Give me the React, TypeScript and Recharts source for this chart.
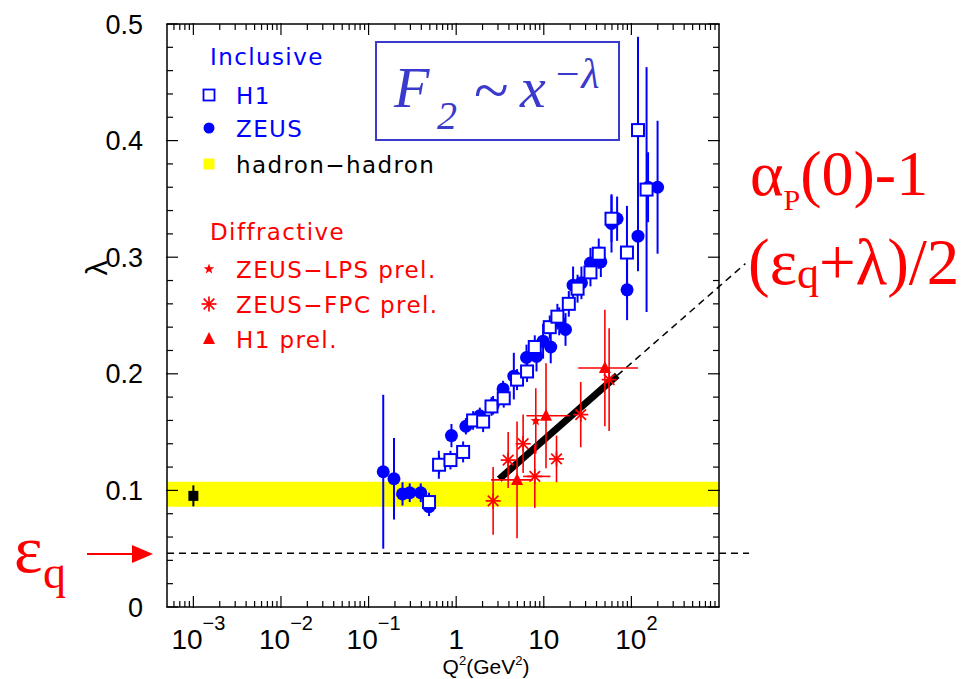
import React from 'react';
import {
  ComposedChart,
  XAxis,
  YAxis,
  Scatter,
  Line,
  ErrorBar,
  ReferenceArea,
  ReferenceLine,
} from 'recharts';

const BLUE = '#0000ff';
const RED = '#ff0000';
const TITLE_BLUE = '#3a3acc';
const SANS = '"Liberation Sans", Arial, sans-serif';
const LEGEND_FONT = '"DejaVu Sans", sans-serif';
const SERIF = '"Liberation Serif", "Times New Roman", serif';

// Inclusive: ZEUS (filled circles)
const zeusQ2 = [0.147, 0.195, 0.244, 0.295, 0.394, 0.49, 0.634, 0.883, 1.29, 1.86, 2.64, 3.43, 4.55, 6.35, 8.26, 9.82, 12.0, 15.0, 17.7, 21.6, 26.9, 34.1, 44.8, 59.3, 68.7, 89.3, 119, 155, 199];
const zeusLambda = [0.116, 0.110, 0.097, 0.098, 0.098, 0.086, 0.122, 0.147, 0.155, 0.164, 0.173, 0.187, 0.198, 0.214, 0.215, 0.228, 0.223, 0.245, 0.238, 0.276, 0.278, 0.295, 0.296, 0.329, 0.333, 0.272, 0.318, 0.360, 0.360];
const zeusErr = [0.066, 0.035, 0.010, 0.008, 0.008, 0.008, 0.012, 0.010, 0.007, 0.007, 0.008, 0.007, 0.020, 0.011, 0.013, 0.015, 0.014, 0.012, 0.014, 0.016, 0.014, 0.013, 0.013, 0.025, 0.019, 0.026, 0.030, 0.030, 0.057];

// Inclusive: H1 (open squares)
const h1Q2 = [0.49, 0.638, 0.86, 1.20, 1.56, 2.03, 2.53, 3.49, 4.95, 6.44, 7.89, 11.7, 14.3, 19.3, 24.3, 34.1, 42.4, 59.3, 89, 119, 149];
const h1Lambda = [0.090, 0.122, 0.126, 0.133, 0.160, 0.159, 0.172, 0.179, 0.195, 0.202, 0.223, 0.240, 0.249, 0.260, 0.273, 0.287, 0.303, 0.333, 0.304, 0.409, 0.358];
const h1Err = [0.008, 0.008, 0.008, 0.009, 0.008, 0.009, 0.008, 0.008, 0.009, 0.009, 0.010, 0.010, 0.011, 0.011, 0.012, 0.012, 0.013, 0.020, 0.040, 0.080, 0.105];

// hadron-hadron point and band
const hadronQ2 = [0.001];
const hadronLambda = [0.0953];
const hadronErr = [0.009];
const hadronBand = [0.086, 0.1075];

// Diffractive
const lpsQ2 = [8.1];
const lpsLambda = [0.1596];
const lpsErr = [0.028];

const fpcQ2 = [2.64, 3.92, 5.81, 7.89, 13.97, 26.4, 55.7];
const fpcLambda = [0.091, 0.126, 0.140, 0.112, 0.127, 0.165, 0.195];
const fpcErr = [0.029, 0.024, 0.025, 0.027, 0.020, 0.028, 0.044];
const fpcQ2Lo = [2.64, 3.92, 5.81, 5.81, 13.97, 26.4, 55.7];
const fpcQ2Hi = [2.64, 3.92, 5.81, 11.9, 13.97, 26.4, 55.7];

const h1pQ2 = [4.95, 10.6, 49.8];
const h1pLambda = [0.109, 0.164, 0.205];
const h1pErr = [0.05, 0.045, 0.05];
const h1pQ2Lo = [2.5, 6.34, 24.7];
const h1pQ2Hi = [7.5, 19.8, 119];

// (eps_q + lambda)/2 line and eps_q level
const fitQ2 = [3.1, 69];
const fitLambda = [0.1097, 0.1986];
const extQ2 = [69, 2000];
const extLambda = [0.1986, 0.2945];
const epsQ = 0.046;
const epsLineQ2 = [5e-4, 2200];

// axes
const xDomain = [5e-4, 1000];
const xMajor = [0.001, 0.01, 0.1, 1, 10, 100];
const xTickBase = ['10', '10', '10', '1', '10', '10'];
const xTickExp = ['\u22123', '\u22122', '\u22121', '', '', '2'];
const xMinorMult = [2, 3, 4, 5, 6, 7, 8, 9];
const xMinor = [0.0006, 0.0007, 0.0008, 0.0009].concat(
  ...xMajor.map(d => xMinorMult.map(m => +(m * d).toPrecision(3)))
);
const yMajor = [0, 0.1, 0.2, 0.3, 0.4, 0.5];
const yLabels = ['0', '0.1', '0.2', '0.3', '0.4', '0.5'];
const yMinor = [0.02, 0.04, 0.06, 0.08, 0.12, 0.14, 0.16, 0.18, 0.22, 0.24, 0.26, 0.28, 0.32, 0.34, 0.36, 0.38, 0.42, 0.44, 0.46, 0.48];

const pts = (xs: number[], ys: number[], es: number[], lo?: number[], hi?: number[]) =>
  xs.map((x, i) => ({
    x,
    y: ys[i],
    ey: es[i],
    ex: lo && hi ? [x - lo[i], hi[i] - x] : [0, 0],
  }));

const zeusData = pts(zeusQ2, zeusLambda, zeusErr);
const h1Data = pts(h1Q2, h1Lambda, h1Err);
const hadronData = pts(hadronQ2, hadronLambda, hadronErr);
const lpsData = pts(lpsQ2, lpsLambda, lpsErr);
const fpcData = pts(fpcQ2, fpcLambda, fpcErr, fpcQ2Lo, fpcQ2Hi);
const h1pData = pts(h1pQ2, h1pLambda, h1pErr, h1pQ2Lo, h1pQ2Hi);
const fitData = fitQ2.map((x, i) => ({ x, y: fitLambda[i] }));

// marker shapes
const Circle = ({ cx, cy }: any) => <circle cx={cx} cy={cy} r={6.5} fill={BLUE} />;
const OpenSquare = ({ cx, cy }: any) => (
  <rect x={cx - 6} y={cy - 6} width={12} height={12} fill='#fff' stroke={BLUE} strokeWidth={2} />
);
const BlackSquare = ({ cx, cy }: any) => <rect x={cx - 5} y={cy - 5} width={10} height={10} fill='#000' />;
const Triangle = ({ cx, cy }: any) => (
  <polygon points={`${cx},${cy - 7} ${cx - 6},${cy + 5} ${cx + 6},${cy + 5}`} fill={RED} />
);
const Star = ({ cx, cy }: any) => {
  const p: string[] = [];
  for (let i = 0; i < 10; i++) {
    const r = i % 2 === 0 ? 5.5 : 2.3;
    const a = -Math.PI / 2 + (i * Math.PI) / 5;
    p.push(`${cx + r * Math.cos(a)},${cy + r * Math.sin(a)}`);
  }
  return <polygon points={p.join(' ')} fill={RED} />;
};
const Asterisk = ({ cx, cy }: any) => {
  const s = 7.5;
  const d = 5.3;
  return (
    <g stroke={RED} strokeWidth={1.7}>
      <line x1={cx - s} y1={cy} x2={cx + s} y2={cy} />
      <line x1={cx} y1={cy - s} x2={cx} y2={cy + s} />
      <line x1={cx - d} y1={cy - d} x2={cx + d} y2={cy + d} />
      <line x1={cx - d} y1={cy + d} x2={cx + d} y2={cy - d} />
    </g>
  );
};

// x labels like 10^-3
const BottomLabel = ({ x, y, payload }: any) => {
  const i = xMajor.indexOf(payload.value);
  if (i < 0) return <g />;
  return (
    <text x={x + (xTickExp[i] ? 5 : 0)} y={y + 41} textAnchor='middle' fontFamily={SANS} fontSize={28} fill='#000'>
      <tspan>{xTickBase[i]}</tspan>
      {xTickExp[i] && <tspan dy={-19} fontSize={20}>{xTickExp[i]}</tspan>}
    </text>
  );
};
const NoLabel = () => <g />;

const frame = { stroke: '#000', strokeWidth: 1.5 };
const tickStroke = { stroke: '#000', strokeWidth: 1.2 };
const AX = { xAxisId: 'b', yAxisId: 'l' };

const legendRows = [
  { text: 'Inclusive', color: BLUE, y: 65, head: true },
  { text: 'H1', color: BLUE, y: 104, marker: 'square' },
  { text: 'ZEUS', color: BLUE, y: 137, marker: 'circle' },
  { text: 'hadron\u2212hadron', color: '#000', y: 173, marker: 'yellow' },
  { text: 'Diffractive', color: RED, y: 240, head: true },
  { text: 'ZEUS\u2212LPS prel.', color: RED, y: 278, marker: 'star' },
  { text: 'ZEUS\u2212FPC prel.', color: RED, y: 313, marker: 'asterisk' },
  { text: 'H1 prel.', color: RED, y: 348, marker: 'triangle' },
];

function LegendMarker({ kind, cx, cy }: { kind: string; cx: number; cy: number }) {
  if (kind === 'square') return <rect x={cx - 5.5} y={cy - 5.5} width={11} height={11} fill='#fff' stroke={BLUE} strokeWidth={1.8} />;
  if (kind === 'circle') return <circle cx={cx} cy={cy} r={5.5} fill={BLUE} />;
  if (kind === 'yellow') return <rect x={cx - 5.5} y={cy - 5.5} width={11} height={11} fill='#ffff00' />;
  if (kind === 'star') return <Star cx={cx} cy={cy} />;
  if (kind === 'asterisk') return <Asterisk cx={cx} cy={cy} />;
  return <Triangle cx={cx} cy={cy} />;
}

const logAxis = {
  type: 'number' as const,
  dataKey: 'x',
  scale: 'log' as const,
  domain: xDomain,
  allowDataOverflow: true,
  interval: 0,
  tickLine: tickStroke,
};
const linAxis = {
  type: 'number' as const,
  domain: [0, 0.5],
  allowDataOverflow: true,
  interval: 0,
  tickLine: tickStroke,
};

export default function App() {
  return (
    <div style={{ position: 'relative', width: 961, height: 679, background: '#fff' }}>
      <style>{'body{margin:0}'}</style>
      <ComposedChart width={961} height={679} margin={{ top: 22, right: 240, bottom: 0, left: 0 }}>
        {/* bottom: minor ticks + frame, then major ticks with labels */}
        <XAxis {...logAxis} xAxisId='b' ticks={xMinor} tickSize={-6} tick={NoLabel} axisLine={frame} height={1} />
        <XAxis {...logAxis} xAxisId='bM' ticks={xMajor} tickSize={-12} tickMargin={12} tick={BottomLabel} axisLine={false} height={71} />
        {/* top */}
        <XAxis {...logAxis} xAxisId='t' orientation='top' ticks={xMinor} tickSize={-6} tick={NoLabel} axisLine={frame} height={1} />
        <XAxis {...logAxis} xAxisId='tM' orientation='top' ticks={xMajor} tickSize={-12} tick={NoLabel} axisLine={false} height={1} />
        {/* left */}
        <YAxis {...linAxis} yAxisId='l' ticks={yMinor} tickSize={-6} tick={NoLabel} axisLine={frame} width={1} />
        <YAxis
          {...linAxis}
          yAxisId='lM'
          ticks={yMajor}
          tickSize={-12}
          tickMargin={35}
          tick={{ fill: '#000', fontSize: 27, fontFamily: SANS }}
          tickFormatter={(v: number) => yLabels[Math.round(v * 10)]}
          axisLine={false}
          width={166}
        />
        {/* right */}
        <YAxis {...linAxis} yAxisId='r' orientation='right' ticks={yMinor} tickSize={-6} tick={NoLabel} axisLine={frame} width={1} />
        <YAxis {...linAxis} yAxisId='rM' orientation='right' ticks={yMajor} tickSize={-12} tick={NoLabel} axisLine={false} width={1} />

        <ReferenceArea {...AX} y1={hadronBand[0]} y2={hadronBand[1]} fill='#ffff00' fillOpacity={1} stroke='none' />
        <ReferenceLine
          {...AX}
          segment={[{ x: epsLineQ2[0], y: epsQ }, { x: epsLineQ2[1], y: epsQ }]}
          stroke='#000'
          strokeWidth={1.5}
          strokeDasharray='7 5'
          ifOverflow='visible'
        />
        <ReferenceLine
          {...AX}
          segment={[{ x: extQ2[0], y: extLambda[0] }, { x: extQ2[1], y: extLambda[1] }]}
          stroke='#000'
          strokeWidth={1.5}
          strokeDasharray='7 5'
          ifOverflow='visible'
        />

        <Line {...AX} data={fitData} dataKey='y' stroke='#000' strokeWidth={7} dot={false} isAnimationActive={false} />

        <Scatter {...AX} data={hadronData} dataKey='y' shape={BlackSquare} isAnimationActive={false}>
          <ErrorBar dataKey='ey' direction='y' width={0} stroke='#000' strokeWidth={2} isAnimationActive={false} />
        </Scatter>
        <Scatter {...AX} data={zeusData} dataKey='y' shape={Circle} isAnimationActive={false}>
          <ErrorBar dataKey='ey' direction='y' width={0} stroke={BLUE} strokeWidth={2} isAnimationActive={false} />
        </Scatter>
        <Scatter {...AX} data={h1Data} dataKey='y' shape={OpenSquare} isAnimationActive={false}>
          <ErrorBar dataKey='ey' direction='y' width={0} stroke={BLUE} strokeWidth={2} isAnimationActive={false} />
        </Scatter>
        <Scatter {...AX} data={fpcData} dataKey='y' shape={Asterisk} isAnimationActive={false}>
          <ErrorBar dataKey='ey' direction='y' width={0} stroke={RED} strokeWidth={1.6} isAnimationActive={false} />
          <ErrorBar dataKey='ex' direction='x' width={0} stroke={RED} strokeWidth={1.6} isAnimationActive={false} />
        </Scatter>
        <Scatter {...AX} data={h1pData} dataKey='y' shape={Triangle} isAnimationActive={false}>
          <ErrorBar dataKey='ey' direction='y' width={0} stroke={RED} strokeWidth={1.6} isAnimationActive={false} />
          <ErrorBar dataKey='ex' direction='x' width={0} stroke={RED} strokeWidth={1.6} isAnimationActive={false} />
        </Scatter>
        <Scatter {...AX} data={lpsData} dataKey='y' shape={Star} isAnimationActive={false}>
          <ErrorBar dataKey='ey' direction='y' width={0} stroke={RED} strokeWidth={1.6} isAnimationActive={false} />
        </Scatter>
      </ComposedChart>

      <svg width={961} height={679} style={{ position: 'absolute', left: 0, top: 0, pointerEvents: 'none' }}>
        {/* legend */}
        {legendRows.map(r => (
          <g key={r.text}>
            {r.marker && <LegendMarker kind={r.marker} cx={209} cy={r.y - 9} />}
            <text x={r.head ? 210 : 236} y={r.y} fontFamily={LEGEND_FONT} fontSize={23} letterSpacing={1.4} fill={r.color}>
              {r.text}
            </text>
          </g>
        ))}

        {/* title box */}
        <rect x={376} y={42} width={243} height={98} fill='none' stroke={TITLE_BLUE} strokeWidth={2} />
        <text x={394} y={107} fontFamily={SERIF} fontStyle='italic' fontSize={58} fill={TITLE_BLUE}>F</text>
        <text x={437} y={129} fontFamily={SERIF} fontStyle='italic' fontSize={40} fill={TITLE_BLUE}>2</text>
        <text x={474} y={112} fontFamily={SERIF} fontSize={64} fill={TITLE_BLUE}>~</text>
        <text x={520} y={107} fontFamily={SERIF} fontStyle='italic' fontSize={58} fill={TITLE_BLUE}>x</text>
        <text x={553} y={88} fontFamily={SERIF} fontStyle='italic' fontSize={42} fill={TITLE_BLUE}>{'\u2212\u03bb'}</text>

        {/* axis titles */}
        <text transform='translate(107,268) rotate(-90)' textAnchor='middle' fontFamily={SANS} fontSize={30} fill='#000'>
          {'\u03bb'}
        </text>
        <text x={486} y={674} textAnchor='middle' fontFamily={SANS} fontSize={21} fill='#000'>
          <tspan>Q</tspan>
          <tspan dy={-9} fontSize={13}>2</tspan>
          <tspan dy={9}>(GeV</tspan>
          <tspan dy={-9} fontSize={13}>2</tspan>
          <tspan dy={9}>)</tspan>
        </text>

        {/* annotations */}
        <text x={750} y={195} fontFamily={SERIF} fontSize={64} fill={RED}>
          <tspan>{'\u03b1'}</tspan>
          <tspan fontSize={30} dy={15}>P</tspan>
          <tspan dy={-15}>(0)-1</tspan>
        </text>
        <text x={748} y={284} fontFamily={SERIF} fontSize={65} fill={RED}>
          <tspan>({'\u03b5'}</tspan>
          <tspan fontSize={44} dy={4}>q</tspan>
          <tspan dy={-4}>{'+\u03bb)/2'}</tspan>
        </text>
        <text x={14} y={572} fontFamily={SERIF} fontSize={68} fill={RED}>{'\u03b5'}</text>
        <text x={43} y={588} fontFamily={SERIF} fontSize={46} fill={RED}>q</text>
        <line x1={87} y1={554} x2={134} y2={554} stroke={RED} strokeWidth={2} />
        <polygon points='132,545 153,554 132,563' fill={RED} />
      </svg>
    </div>
  );
}
